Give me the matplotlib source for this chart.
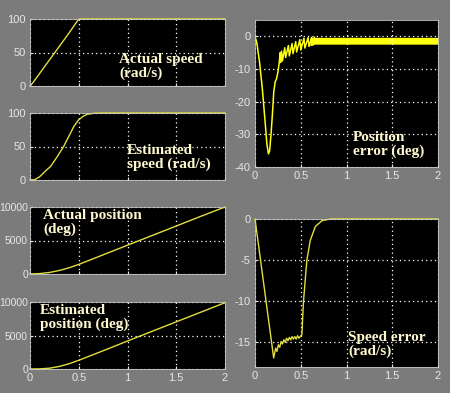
import matplotlib
matplotlib.use("Agg")
import matplotlib.pyplot as plt
import numpy as np

plt.rcParams['axes.unicode_minus'] = False

# ---------------- data ----------------
t_speed = [0, 0.03, 0.1, 0.2, 0.3, 0.4, 0.48, 0.5, 0.52, 2.0]
actual_speed = [0, 5, 19, 39, 59, 79, 96, 99.5, 100, 100]

t_est_speed = [0, 0.05, 0.1, 0.17, 0.21, 0.28, 0.345, 0.38, 0.45, 0.5, 0.55, 0.586, 0.65, 0.74, 2.0]
est_speed = [0, 0.5, 5, 15, 20, 35, 50, 60, 80, 90, 95.5, 98, 99.5, 100, 100]

t_pos = [0, 0.1, 0.2, 0.3, 0.4, 0.5, 0.6, 0.8, 1.0, 1.25, 1.5, 1.75, 2.0]
actual_pos = [0, 60, 230, 520, 920, 1430, 2000, 3150, 4300, 5730, 7160, 8600, 10000]
est_pos = [0, 20, 120, 380, 780, 1300, 1870, 3010, 4180, 5610, 7040, 8470, 9900]

t_pos_err = [0, 0.02, 0.05, 0.08, 0.11, 0.13, 0.147, 0.16, 0.175, 0.19, 0.205, 0.22,
             0.235, 0.25, 0.265, 0.275, 0.28, 0.29, 0.30, 0.325, 0.335, 0.365, 0.375,
             0.405, 0.415, 0.445, 0.455, 0.49, 0.50, 0.535, 0.545, 0.58, 0.59, 0.62,
             0.63, 0.65]
pos_err = [0, -2, -8, -16, -26, -33, -36, -35, -30, -24, -17, -14,
           -13, -11, -8, -5, -8, -4.5, -7.5, -3.5, -6.5, -2.8, -6,
           -2.2, -5.3, -1.6, -4.8, -1.0, -4.2, -0.6, -3.6, -0.4, -3.1, -0.3,
           -2.7, -0.3]
t_band = [0.6, 0.65, 2.0]
band_upper = [-0.3, -0.3, -0.3]
band_lower = [-2.9, -2.4, -2.4]

t_spd_err = [0, 0.01, 0.204, 0.226, 0.24, 0.255, 0.27, 0.285, 0.30, 0.315, 0.33, 0.345,
             0.36, 0.375, 0.39, 0.405, 0.42, 0.435, 0.45, 0.465, 0.48, 0.5, 0.512,
             0.53, 0.567, 0.604, 0.66, 0.733, 0.826, 2.0]
spd_err = [0, -0.8, -16.9, -15.7, -16.1, -15.3, -15.6, -14.9, -15.2, -14.7, -15.0, -14.5,
           -14.8, -14.4, -14.7, -14.3, -14.6, -14.3, -14.6, -14.2, -14.5, -14.2, -14.1,
           -10, -5, -2.6, -0.9, -0.2, 0, 0]

x_ticks = [0, 0.5, 1, 1.5, 2]
x_ticklabels = ['0', '0.5', '1', '1.5', '2']

# ---------------- figure ----------------
W, H = 450, 393
fig = plt.figure(figsize=(W / 100, H / 100), dpi=100)
fig.patch.set_facecolor('#7b7b7b')

LINE = '#e2df3c'
BRIGHT = '#ffff10'
TICKC = '#e6e6e6'
TXT = '#fdf8cf'
TICKFONT = ['Liberation Sans Narrow', 'Liberation Sans', 'DejaVu Sans']


def px_axes(x0, y0, x1, y1):
    return fig.add_axes([x0 / W, 1 - y1 / H, (x1 - x0) / W, (y1 - y0) / H])


def style(ax, yticks, ylim, show_x=True, ysize=8, ypad=3):
    ax.set_facecolor('black')
    ax.set_xlim(0, 2)
    ax.set_ylim(*ylim)
    ax.set_xticks(x_ticks)
    ax.set_yticks(yticks)
    ax.set_yticklabels([str(v) for v in yticks])
    if show_x:
        ax.set_xticklabels(x_ticklabels)
    else:
        ax.set_xticklabels([])
    ax.grid(True, color='white', linestyle=(0, (1, 2.5)), linewidth=0.9)
    ax.tick_params(colors=TICKC, labelsize=8, length=2, direction='in', pad=3,
                   labelcolor=TICKC)
    ax.tick_params(axis='y', labelsize=ysize, pad=ypad)
    for lab in ax.get_xticklabels() + ax.get_yticklabels():
        lab.set_family(TICKFONT)
    for s in ax.spines.values():
        s.set_color('#c8c8c8')
        s.set_linewidth(0.6)


ax1 = px_axes(30, 19, 225, 86)
ax1.plot(t_speed, actual_speed, color=LINE, lw=1.0, clip_on=False)
style(ax1, [0, 50, 100], (0, 100), show_x=False)

ax2 = px_axes(30, 113, 225, 180)
ax2.plot(t_est_speed, est_speed, color=LINE, lw=1.0, clip_on=False)
style(ax2, [0, 50, 100], (0, 100), show_x=False)

ax3 = px_axes(30, 207, 225, 274)
ax3.plot(t_pos, actual_pos, color=LINE, lw=1.0, clip_on=False)
style(ax3, [0, 5000, 10000], (0, 10000), show_x=False, ysize=7.5, ypad=1.5)

ax4 = px_axes(30, 302, 225, 369)
ax4.plot(t_pos, est_pos, color=LINE, lw=1.0, clip_on=False)
style(ax4, [0, 5000, 10000], (0, 10000), show_x=True, ysize=7.5, ypad=1.5)

ax5 = px_axes(255, 20, 438, 167)
ax5.plot(t_pos_err, pos_err, color=BRIGHT, lw=1.1)
ax5.fill_between(t_band, band_lower, band_upper, color=BRIGHT, lw=0)
style(ax5, [0, -10, -20, -30, -40], (-40, 5), show_x=True)

ax6 = px_axes(255, 219, 438, 367)
ax6.plot(t_spd_err, spd_err, color=LINE, lw=1.0, clip_on=False)
style(ax6, [0, -5, -10, -15], (-18, 0), show_x=True)

# ---------------- annotations ----------------
def label(px, py, s):
    fig.text(px / W, 1 - py / H, s, color=TXT, fontsize=11, fontweight='bold',
             family=['Liberation Serif', 'DejaVu Serif'], va='top', ha='left',
             linespacing=1.05)


label(119, 53, 'Actual speed\n(rad/s)')
label(127, 144, 'Estimated\nspeed (rad/s)')
label(43, 209, 'Actual position\n(deg)')
label(40, 304, 'Estimated\nposition (deg)')
label(353, 131, 'Position\nerror (deg)')
label(348, 331, 'Speed error\n(rad/s)')

fig.savefig('out.png', dpi=100, facecolor=fig.get_facecolor())
